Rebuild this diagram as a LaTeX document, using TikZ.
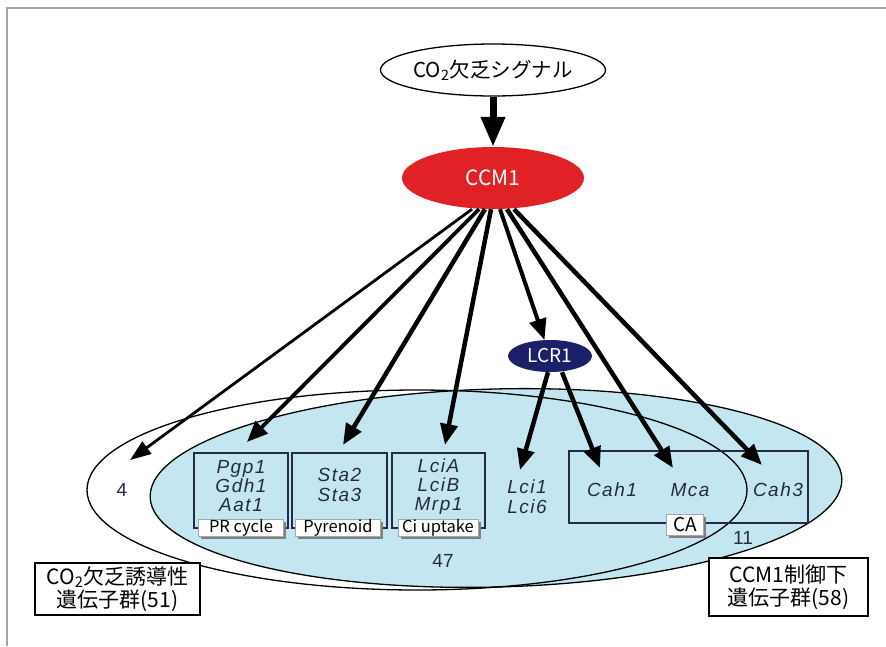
\documentclass[tikz,border=0pt]{standalone}
\usepackage{fontspec}
\setmainfont{Noto Sans CJK JP}
\newfontfamily\latin{Liberation Sans}
\newfontfamily\genefont[LetterSpace=8]{Liberation Sans}
\usetikzlibrary{arrows.meta,shapes.geometric,shadows}
\definecolor{ccmred}{RGB}{224,34,38}
\definecolor{lcrnavy}{RGB}{28,32,104}
\definecolor{paleblue}{RGB}{196,230,241}
\definecolor{boxline}{RGB}{35,42,70}
\begin{document}
\begin{tikzpicture}[x=1pt,y=-1pt,
  gene/.style={font=\genefont\itshape\fontsize{19}{19}\selectfont, align=center, text=boxline, inner sep=0pt},
  genebox/.style={draw=boxline, line width=1.2pt, inner sep=0pt},
  tag/.style={draw=gray!70, fill=white, line width=0.6pt, inner sep=0pt, minimum height=17pt,
    font=\fontsize{16.5}{16.5}\selectfont,
    drop shadow={shadow xshift=2.5pt, shadow yshift=-2.5pt, fill=black!50, opacity=1}},
  num/.style={font=\latin\fontsize{19}{19}\selectfont, text=boxline},
  jbox/.style={draw=black, line width=1.2pt, fill=white, align=center, font=\fontsize{21}{23.5}\selectfont, inner sep=0pt},
  arr/.style={line width=4.5pt, -{Triangle[length=21pt,width=17pt]}},
  thinarr/.style={line width=2.8pt, -{Triangle[length=21pt,width=15pt]}}
]
\useasboundingbox (0,0) rectangle (886,646);
% frame
\draw[gray!70, line width=1.2pt] (7,646) -- (7,8) -- (886,8);
% sets
\fill[paleblue, rotate around={1.5:(496,488)}] (496,488) ellipse [x radius=346pt, y radius=99pt];
\draw[line width=1.3pt, rotate around={1.5:(496,488)}] (496,488) ellipse [x radius=346pt, y radius=99pt];
\draw[line width=1.3pt] (417,490) ellipse [x radius=330pt, y radius=100pt];
% gene boxes
\node[genebox, minimum width=94pt, minimum height=75pt] (prbox) at (241,490.5) {};
\node[genebox, minimum width=95pt, minimum height=75pt] (pyrbox) at (339.5,490.5) {};
\node[genebox, minimum width=93pt, minimum height=75pt] (cibox) at (438.5,490.5) {};
\node[genebox, minimum width=239pt, minimum height=72pt] (cabox) at (688.5,487) {};
\node[gene] (prg) at (241,486.5) {Pgp1\\Gdh1\\Aat1};
\node[gene, font=\genefont\itshape\fontsize{19}{20}\selectfont] (pyrg) at (339.5,485) {Sta2\\Sta3};
\node[gene] (cig) at (438.5,486.5) {LciA\\LciB\\Mrp1};
\node[gene, font=\genefont\itshape\fontsize{19}{20}\selectfont] (lcig) at (527,497) {Lci1\\Lci6};
\node[gene] (cah1) at (612,490) {Cah1};
\node[gene] (mca) at (690,490) {Mca};
\node[gene] (cah3) at (778,490) {Cah3};
\node[tag, minimum width=85pt] (prtag) at (241,528) {PR cycle};
\node[tag, minimum width=85pt] (pyrtag) at (338,528) {Pyrenoid};
\node[tag, minimum width=80pt] (citag) at (438,528) {Ci uptake};
\node[tag, minimum width=37pt, minimum height=21pt, font=\fontsize{19}{19}\selectfont] (catag) at (685,525) {CA};
% numbers
\node[num] (n4) at (122,490) {4};
\node[num] (n47) at (443,561) {47};
\node[num] (n11) at (743,538) {11};
% legend boxes
\node[jbox, minimum width=165pt, minimum height=52pt] (left) at (117.5,589) {CO\textsubscript{2}欠乏誘導性\\遺伝子群(51)};
\node[jbox, minimum width=159pt, minimum height=58pt] (right) at (788.5,587) {CCM1制御下\\遺伝子群(58)};
% regulators
\node[draw=black, line width=1.3pt, fill=white, ellipse, minimum width=200pt, minimum height=52pt, inner sep=0pt,
  font=\fontsize{20.5}{20.5}\selectfont] (sig) at (493,70) {CO\textsubscript{2}欠乏シグナル};
\node[ellipse, fill=ccmred, text=white, minimum width=182pt, minimum height=62pt, inner sep=0pt,
  font=\fontsize{21}{21}\selectfont] (ccm) at (493,178) {CCM1};
\node[ellipse, fill=lcrnavy, text=white, minimum width=84pt, minimum height=32pt, inner sep=0pt,
  font=\fontsize{19}{19}\selectfont] (lcr) at (550,356) {LCR1};
% arrow tips
\coordinate (t4) at (130,460);
\coordinate (tpr) at (247,442);
\coordinate (tpyr) at (343,445);
\coordinate (tci) at (445,445);
\coordinate (tmca) at (673,468);
\coordinate (tcah3) at (762,465);
\coordinate (tlci) at (520,470);
\coordinate (tcah1) at (600,468);
% arrows
\draw[line width=7pt, -{Triangle[length=30pt,width=23pt]}] (sig) -- (ccm);
\draw[thinarr] ([xshift=-21pt]ccm.south) -- (t4);
\draw[arr, line width=3.8pt] ([xshift=-14pt]ccm.south) -- (tpr);
\draw[arr] ([xshift=-8pt]ccm.south) -- (tpyr);
\draw[arr] ([xshift=-2pt]ccm.south) -- (tci);
\draw[arr, line width=4pt] ([xshift=7pt]ccm.south) -- (lcr);
\draw[arr] ([xshift=14pt]ccm.south) -- (tmca);
\draw[arr] ([xshift=21pt]ccm.south) -- (tcah3);
\draw[arr] ([xshift=-2pt]lcr.south) -- (tlci);
\draw[arr] ([xshift=12pt]lcr.south) -- (tcah1);
\end{tikzpicture}
\end{document}
